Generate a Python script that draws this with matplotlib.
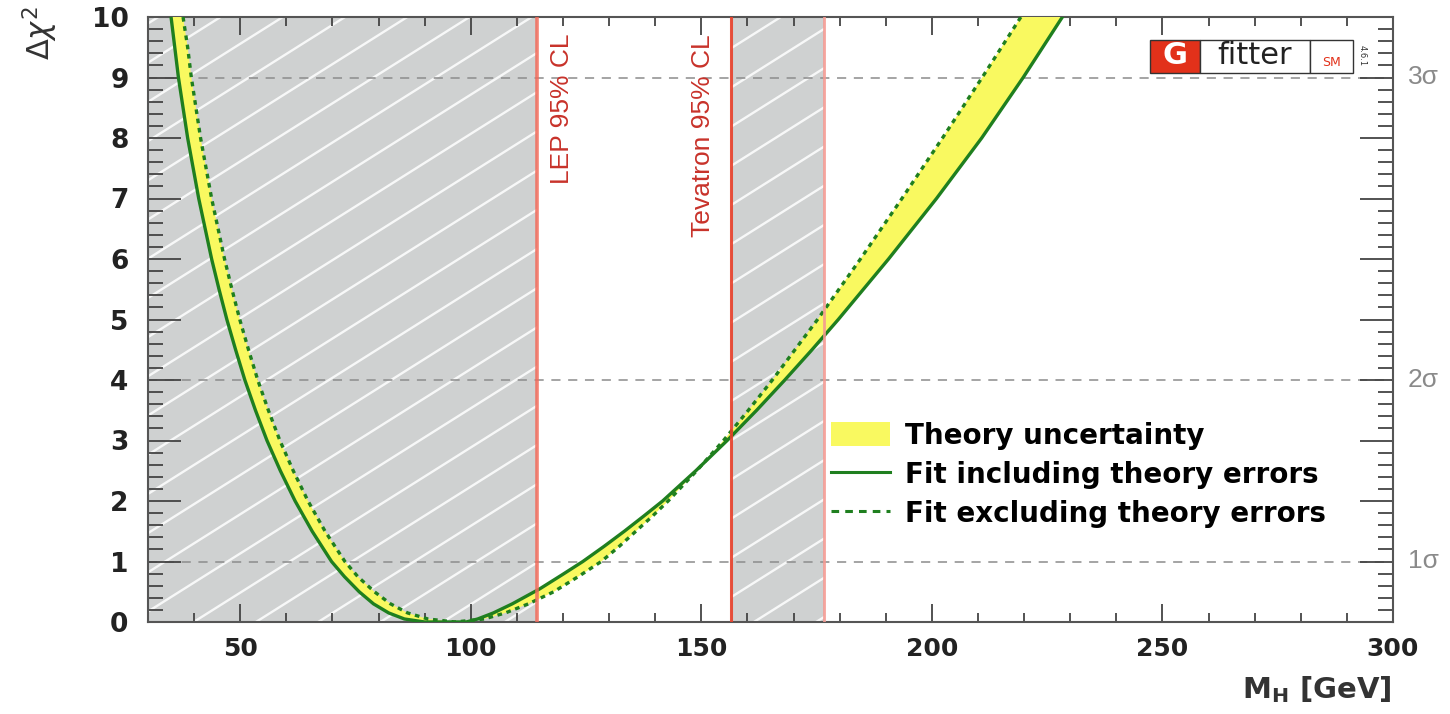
import numpy as np
import matplotlib.pyplot as plt
from matplotlib.patches import Patch, Rectangle
from matplotlib.lines import Line2D

plt.rcParams['font.family'] = ['DejaVu Sans']
plt.rcParams['mathtext.fontset'] = 'dejavusans'

# fit including theory errors (solid): M_H [GeV] vs delta chi2
incl_mh = [35.0, 35.8, 36.6, 37.6, 38.6, 39.8, 41.0, 42.4, 43.8, 45.4, 47.1, 49.0, 51.0, 53.3,
           55.8, 58.7, 61.9, 65.6, 69.8, 72.6, 75.8, 78.9, 82.2, 85.6, 90.0,
           99.0, 101.5, 104.9, 109.0, 115.0, 119.8, 124.3, 128.9, 133.3, 137.5, 141.6, 148.8,
           155.6, 162.0, 168.1, 174.0, 179.7, 190.6, 201.0, 210.8, 219.8, 228.3]
incl_chi2 = [10, 9.5, 9, 8.5, 8, 7.5, 7, 6.5, 6, 5.5, 5, 4.5, 4, 3.5,
             3, 2.5, 2, 1.5, 1, 0.75, 0.5, 0.3, 0.15, 0.05, 0,
             0, 0.05, 0.15, 0.3, 0.55, 0.78, 1, 1.25, 1.5, 1.75, 2, 2.5,
             3, 3.5, 4, 4.5, 5, 6, 7, 8, 9, 10]

# fit excluding theory errors (dashed)
excl_mh = [37.6, 38.6, 39.4, 40.4, 41.4, 42.6, 43.8, 45.2, 46.6, 48.2, 49.9, 51.8, 53.8, 56.1,
           58.6, 61.5, 64.7, 68.4, 72.7, 75.5, 79.1, 82.6, 86.3, 90.7, 96.6,
           102.9, 107.5, 112.5, 118.0, 123.3, 128.3, 132.2, 135.8, 139.4, 142.8, 149.0, 154.8,
           160.2, 165.4, 175.2, 184.5, 193.5, 202.3, 210.9, 219.3]
excl_chi2 = [10, 9.5, 9, 8.5, 8, 7.5, 7, 6.5, 6, 5.5, 5, 4.5, 4, 3.5,
             3, 2.5, 2, 1.5, 1, 0.75, 0.5, 0.3, 0.15, 0.05, 0,
             0.05, 0.15, 0.3, 0.5, 0.75, 1, 1.25, 1.5, 1.75, 2, 2.5, 3,
             3.5, 4, 5, 6, 7, 8, 9, 10]

# excluded regions (95% CL)
lep_limit = 114.4
tev_limit = (156.5, 176.6)

# sigma levels on the right
sigma_chi2 = [1, 4, 9]
sigma_labels = ['1σ', '2σ', '3σ']

legend_labels = ['Theory uncertainty', 'Fit including theory errors', 'Fit excluding theory errors']

yellow = '#f9f960'
green = '#1f7f1f'
grey = '#cfd1d1'
darkred = '#c8322a'

fig = plt.figure(figsize=(14.5, 7.14), dpi=100)
ax = fig.add_axes([148/1450, 92/714, 1245/1450, 605/714])
ax.set_xlim(30, 300)
ax.set_ylim(0, 10)

# grey excluded areas with white diagonal lines
spans = [ax.axvspan(30, lep_limit, color=grey, lw=0, zorder=0),
         ax.axvspan(tev_limit[0], tev_limit[1], color=grey, lw=0, zorder=0)]
slope = 0.048
for sp in spans:
    for x0 in np.arange(-14.1 - 13.5 * 22, 320, 13.5):
        ln, = ax.plot([x0, x0 + 250], [0, 250 * slope], color='white', lw=1.7, alpha=0.85, zorder=0.5)
        ln.set_clip_path(sp)

# sigma grid lines
for s, lab in zip(sigma_chi2, sigma_labels):
    ax.axhline(s, color='#8c8c8c', lw=1.1, ls=(0, (6, 5)), zorder=1)
    ax.text(1.012, s, lab, transform=ax.get_yaxis_transform(), family='Liberation Sans',
            va='center', ha='left', fontsize=19, color='#8a8a8a')

# theory band between the two curves
band_x = incl_mh + excl_mh[::-1]
band_y = incl_chi2 + excl_chi2[::-1]
ax.fill(band_x, band_y, color=yellow, lw=0, zorder=3)

ax.plot(incl_mh, incl_chi2, color=green, lw=2.4, zorder=4)
ax.plot(excl_mh, excl_chi2, color=green, lw=2.4, ls=(0, (1.4, 1.4)), zorder=4)

# limit lines
ax.axvline(lep_limit, color='#f26b5b', lw=2.6, alpha=0.85, zorder=5)
ax.axvline(tev_limit[0], color='#e8402a', lw=2.2, alpha=0.9, zorder=5)
ax.axvline(tev_limit[1], color='#f49a92', lw=2.0, alpha=0.9, zorder=5)

narrow = ['Liberation Sans Narrow', 'Liberation Sans']
ax.text(119.8, 9.72, 'LEP 95% CL', rotation=90, ha='center', va='top', fontsize=19,
        color=darkred, family=narrow)
ax.text(150.4, 9.72, 'Tevatron 95% CL', rotation=90, ha='center', va='top', fontsize=19,
        color=darkred, family=narrow)

# ticks
ax.set_xticks([50, 100, 150, 200, 250, 300])
ax.set_xticks(np.arange(30, 301, 10), minor=True)
ax.set_yticks(np.arange(0, 11, 1))
ax.set_yticks(np.arange(0, 10.01, 0.2), minor=True)
ax.tick_params(direction='in', top=True, right=True, which='both', color='#444444', width=1.3)
ax.tick_params(axis='x', which='major', length=13, pad=11, labelsize=18)
ax.tick_params(axis='x', which='minor', length=6.5)
ax.tick_params(axis='y', which='major', length=24, pad=14, labelsize=19)
ax.tick_params(axis='y', which='minor', length=11)
for lab in ax.get_xticklabels() + ax.get_yticklabels():
    lab.set_fontweight('bold')
    lab.set_color('#222222')
for sp in ax.spines.values():
    sp.set_color('#555555')
    sp.set_linewidth(1.5)

fig.text(40/1450, 1 - 6/714, r'$\Delta\chi^2$', rotation=90, ha='center', va='top', fontsize=22,
         color='#333333')
fig.text(1392/1450, 1 - 690/714, r'M$_\mathregular{H}$ [GeV]', ha='right', va='center', fontsize=21,
         fontweight='bold', color='#333333')

# legend
handles = [Patch(facecolor=yellow, edgecolor='none'),
           Line2D([], [], color=green, lw=2.2),
           Line2D([], [], color=green, lw=2.2, ls=(0, (2.5, 2)))]
ax.legend(handles, legend_labels, loc='upper left', bbox_to_anchor=(0.5486, 0.3314), frameon=False,
          prop={'size': 20, 'weight': 'bold'}, handlelength=2.12, handleheight=1.0,
          handletextpad=0.54, labelspacing=0.4, borderpad=0, borderaxespad=0)

# Gfitter logo
def fx(px):
    return (px - 148) / 1245

def fy(py):
    return (622 - py) / 605

ax.add_patch(Rectangle((fx(1150), fy(73)), fx(1200) - fx(1150), fy(40) - fy(73), transform=ax.transAxes,
                       facecolor='#e2311a', edgecolor='#333333', lw=1, clip_on=False, zorder=6))
ax.add_patch(Rectangle((fx(1200), fy(73)), fx(1310) - fx(1200), fy(40) - fy(73), transform=ax.transAxes,
                       facecolor='white', edgecolor='#333333', lw=1, clip_on=False, zorder=6))
ax.add_patch(Rectangle((fx(1310), fy(73)), fx(1353) - fx(1310), fy(40) - fy(73), transform=ax.transAxes,
                       facecolor='white', edgecolor='#333333', lw=1, clip_on=False, zorder=6))
ax.text(fx(1175), fy(56), 'G', transform=ax.transAxes, ha='center', va='center', fontsize=22,
        fontweight='bold', color='white', zorder=7)
ax.text(fx(1255), fy(56), 'fitter', transform=ax.transAxes, ha='center', va='center', fontsize=22,
        color='#222222', zorder=7)
ax.text(fx(1331), fy(62), 'SM', transform=ax.transAxes, ha='center', va='center', fontsize=9,
        color='#e2311a', zorder=7)
ax.text(fx(1362), fy(56), '4.6.1', transform=ax.transAxes, ha='center', va='center', fontsize=6,
        rotation=-90, color='#333333', zorder=7)

fig.savefig('out.png', dpi=100)
